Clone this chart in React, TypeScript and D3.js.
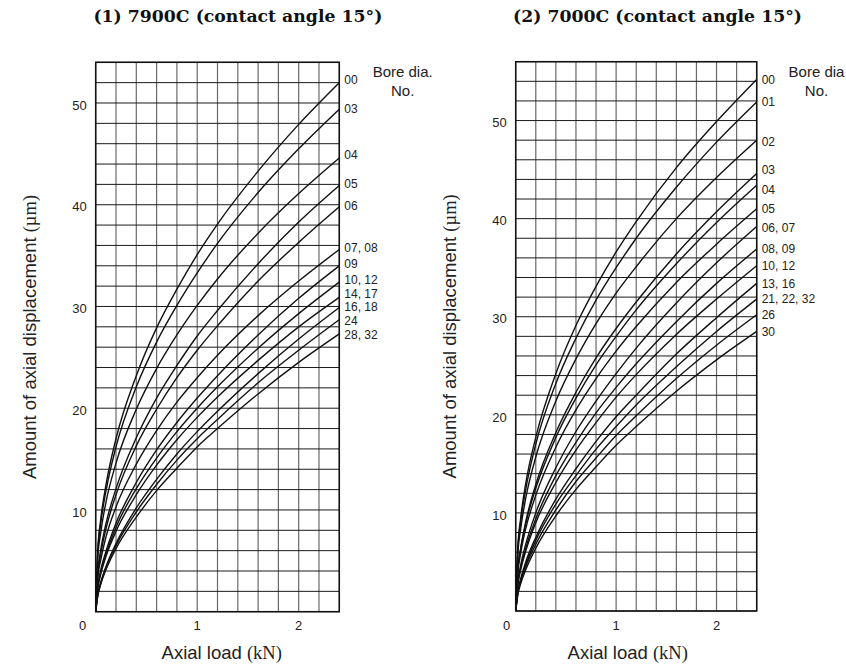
import React from "react";
import * as d3 from "d3";

// ---- data ----
const loads = [0, 0.02, 0.05, 0.1, 0.2, 0.4, 0.6, 0.8, 1.0, 1.2, 1.6, 2.0, 2.4]; // kN

const leftNames = ["00", "03", "04", "05", "06", "07, 08", "09", "10, 12", "14, 17", "16, 18", "24", "28, 32"];
const leftValues = [
  [0, 6.0, 9.1, 12.4, 17.0, 23.2, 27.9, 31.7, 35.1, 38.1, 43.3, 47.9, 52.0],
  [0, 5.7, 8.7, 11.8, 16.2, 22.1, 26.5, 30.1, 33.3, 36.2, 41.2, 45.5, 49.4],
  [0, 5.2, 7.8, 10.7, 14.6, 19.9, 23.9, 27.2, 30.1, 32.7, 37.2, 41.1, 44.6],
  [0, 3.8, 6.1, 8.6, 12.1, 17.1, 21.0, 24.2, 27.1, 29.6, 34.2, 38.3, 41.9],
  [0, 3.6, 5.7, 8.1, 11.5, 16.3, 19.9, 23.0, 25.7, 28.1, 32.5, 36.3, 39.8],
  [0, 3.3, 5.1, 7.3, 10.3, 14.5, 17.8, 20.6, 23.0, 25.2, 29.1, 32.5, 35.6],
  [0, 2.4, 4.1, 5.9, 8.7, 12.7, 15.9, 18.6, 21.0, 23.2, 27.2, 30.8, 34.0],
  [0, 2.3, 3.9, 5.6, 8.3, 12.1, 15.1, 17.7, 20.0, 22.1, 25.9, 29.3, 32.4],
  [0, 2.2, 3.7, 5.4, 7.9, 11.5, 14.4, 16.9, 19.1, 21.1, 24.7, 28.0, 30.9],
  [0, 1.7, 2.9, 4.4, 6.7, 10.2, 13.0, 15.5, 17.7, 19.7, 23.4, 26.8, 29.9],
  [0, 1.6, 2.8, 4.3, 6.5, 9.8, 12.5, 14.9, 17.0, 18.9, 22.5, 25.7, 28.7],
  [0, 1.5, 2.7, 4.1, 6.2, 9.3, 11.9, 14.1, 16.2, 18.0, 21.4, 24.5, 27.3],
];
const leftLabelAt = [52.3, 49.4, 44.9, 42.1, 39.9, 35.8, 34.2, 32.65, 31.3, 29.95, 28.6, 27.25];

const rightNames = ["00", "01", "02", "03", "04", "05", "06, 07", "08, 09", "10, 12", "13, 16", "21, 22, 32", "26", "30"];
const rightValues = [
  [0, 6.3, 9.5, 13.0, 17.7, 24.2, 29.1, 33.1, 36.6, 39.7, 45.2, 49.9, 54.2],
  [0, 6.0, 9.1, 12.4, 17.0, 23.2, 27.8, 31.7, 35.0, 38.0, 43.2, 47.8, 51.9],
  [0, 5.6, 8.4, 11.5, 15.7, 21.4, 25.7, 29.3, 32.4, 35.1, 40.0, 44.2, 48.0],
  [0, 4.1, 6.4, 9.1, 12.9, 18.2, 22.3, 25.8, 28.8, 31.5, 36.4, 40.7, 44.6],
  [0, 4.0, 6.3, 8.9, 12.5, 17.7, 21.7, 25.1, 28.0, 30.7, 35.4, 39.6, 43.4],
  [0, 3.7, 5.9, 8.4, 11.8, 16.7, 20.5, 23.7, 26.5, 29.0, 33.5, 37.4, 41.0],
  [0, 2.8, 4.7, 6.8, 10.0, 14.6, 18.3, 21.4, 24.2, 26.8, 31.4, 35.5, 39.2],
  [0, 2.7, 4.4, 6.4, 9.4, 13.8, 17.2, 20.2, 22.8, 25.2, 29.5, 33.4, 36.9],
  [0, 2.5, 4.2, 6.1, 9.0, 13.1, 16.4, 19.2, 21.8, 24.1, 28.2, 31.8, 35.2],
  [0, 1.9, 3.3, 5.0, 7.5, 11.4, 14.5, 17.3, 19.8, 22.0, 26.2, 29.9, 33.4],
  [0, 1.8, 3.1, 4.7, 7.2, 10.9, 13.8, 16.5, 18.8, 21.0, 24.9, 28.5, 31.8],
  [0, 1.7, 3.0, 4.5, 6.8, 10.3, 13.2, 15.6, 17.9, 19.9, 23.7, 27.1, 30.2],
  [0, 1.6, 2.8, 4.2, 6.4, 9.7, 12.4, 14.7, 16.9, 18.8, 22.4, 25.6, 28.5],
];
const rightLabelAt = [54.2, 51.9, 47.8, 45.0, 43.0, 41.0, 39.1, 36.9, 35.2, 33.4, 31.8, 30.2, 28.5];

const xTicks = [0, 1, 2];
const yTicks = [10, 20, 30, 40, 50];
const titles = ["(1) 7900C (contact angle 15°)", "(2) 7000C (contact angle 15°)"];
const headers = [["Bore dia.", "No."], ["Bore dia", "No."]];

const SANS = "'Liberation Sans', Arial, Helvetica, sans-serif";
const SERIF = "'Liberation Serif', 'Times New Roman', serif";

type PanelProps = {
  x0: number; x1: number; yTop: number; yBot: number; yMax: number;
  names: string[]; values: number[][]; labelAt: number[];
  title: string; titleX: number; header: string[]; headerX: number;
  yLabelX: number; xLabelX: number; zeroShift: number;
};

function Panel(p: PanelProps) {
  const x = d3.scaleLinear().domain([0, 2.4]).range([p.x0, p.x1]);
  const y = d3.scaleLinear().domain([0, p.yMax]).range([p.yBot, p.yTop]);
  const line = d3
    .line<number>()
    .x((_, i) => x(loads[i]))
    .y((v) => y(v))
    .curve(d3.curveMonotoneX);
  const vGrid = d3.range(0, 2.4 + 1e-6, 0.2);
  const hGrid = d3.range(0, p.yMax + 1e-6, 2);
  const yMid = (p.yTop + p.yBot) / 2;
  return (
    <g>
      <text x={p.titleX} y={22} fontFamily="'DejaVu Serif', serif" fontWeight="bold" fontSize={17}
        textLength={289} lengthAdjust="spacingAndGlyphs" fill="#111">{p.title}</text>
      {vGrid.map((g, i) => (
        <line key={"v" + i} x1={x(g)} x2={x(g)} y1={p.yTop} y2={p.yBot} stroke="#6a6a6a" strokeWidth={1.2} />
      ))}
      {hGrid.map((g, i) => (
        <line key={"h" + i} x1={p.x0} x2={p.x1} y1={y(g)} y2={y(g)} stroke="#1a1a1a" strokeWidth={1} />
      ))}
      <rect x={p.x0} y={p.yTop} width={p.x1 - p.x0} height={p.yBot - p.yTop} fill="none" stroke="#111" strokeWidth={1.5} />
      {p.values.map((vals, i) => (
        <path key={"c" + i} d={line(vals) || ""} fill="none" stroke="#111" strokeWidth={1.4} />
      ))}
      {p.names.map((n, i) => (
        <text key={"n" + i} x={p.x1 + 5} y={y(p.labelAt[i])} dy="0.36em" fontFamily={SANS} fontSize={12} fill="#222">{n}</text>
      ))}
      <text x={p.headerX} y={77} textAnchor="middle" fontFamily={SANS} fontSize={15} fill="#222">{p.header[0]}</text>
      <text x={p.headerX} y={96} textAnchor="middle" fontFamily={SANS} fontSize={15} fill="#222">{p.header[1]}</text>
      {yTicks.map((t) => (
        <text key={"yt" + t} x={p.x0 - 9} y={y(t) + 2} dy="0.36em" textAnchor="end" fontFamily={SANS} fontSize={13} fill="#222">{t}</text>
      ))}
      {xTicks.map((t) => (
        <text key={"xt" + t} x={t === 0 ? x(t) - p.zeroShift : x(t)} y={630} textAnchor="middle" fontFamily={SANS} fontSize={13} fill="#222">{t}</text>
      ))}
      <text x={p.xLabelX} y={659} textAnchor="middle" fontFamily={SANS} fontSize={18.5} fill="#222">
        Axial load <tspan fontFamily={SERIF}>(kN)</tspan>
      </text>
      <text transform={`translate(${p.yLabelX},${yMid}) rotate(-90)`} textAnchor="middle" dy="0.36em" fontFamily={SANS} fontSize={18.5} fill="#222">
        Amount of axial displacement <tspan fontFamily={SERIF}>(µm)</tspan>
      </text>
    </g>
  );
}

export default function App() {
  return (
    <svg width={846} height={664} style={{ position: "absolute", left: 0, top: 0, background: "#fff" }}>
      <rect width={846} height={664} fill="#fff" />
      <Panel x0={95.7} x1={339.3} yTop={62.3} yBot={611.7} yMax={54}
        names={leftNames} values={leftValues} labelAt={leftLabelAt}
        title={titles[0]} titleX={93.4} header={headers[0]} headerX={402.7}
        yLabelX={29.7} xLabelX={221.7} zeroShift={13} />
      <Panel x0={515.7} x1={756.7} yTop={61.7} yBot={611} yMax={56}
        names={rightNames} values={rightValues} labelAt={rightLabelAt}
        title={titles[1]} titleX={513} header={headers[1]} headerX={816.5}
        yLabelX={449.7} xLabelX={627.7} zeroShift={9} />
    </svg>
  );
}
